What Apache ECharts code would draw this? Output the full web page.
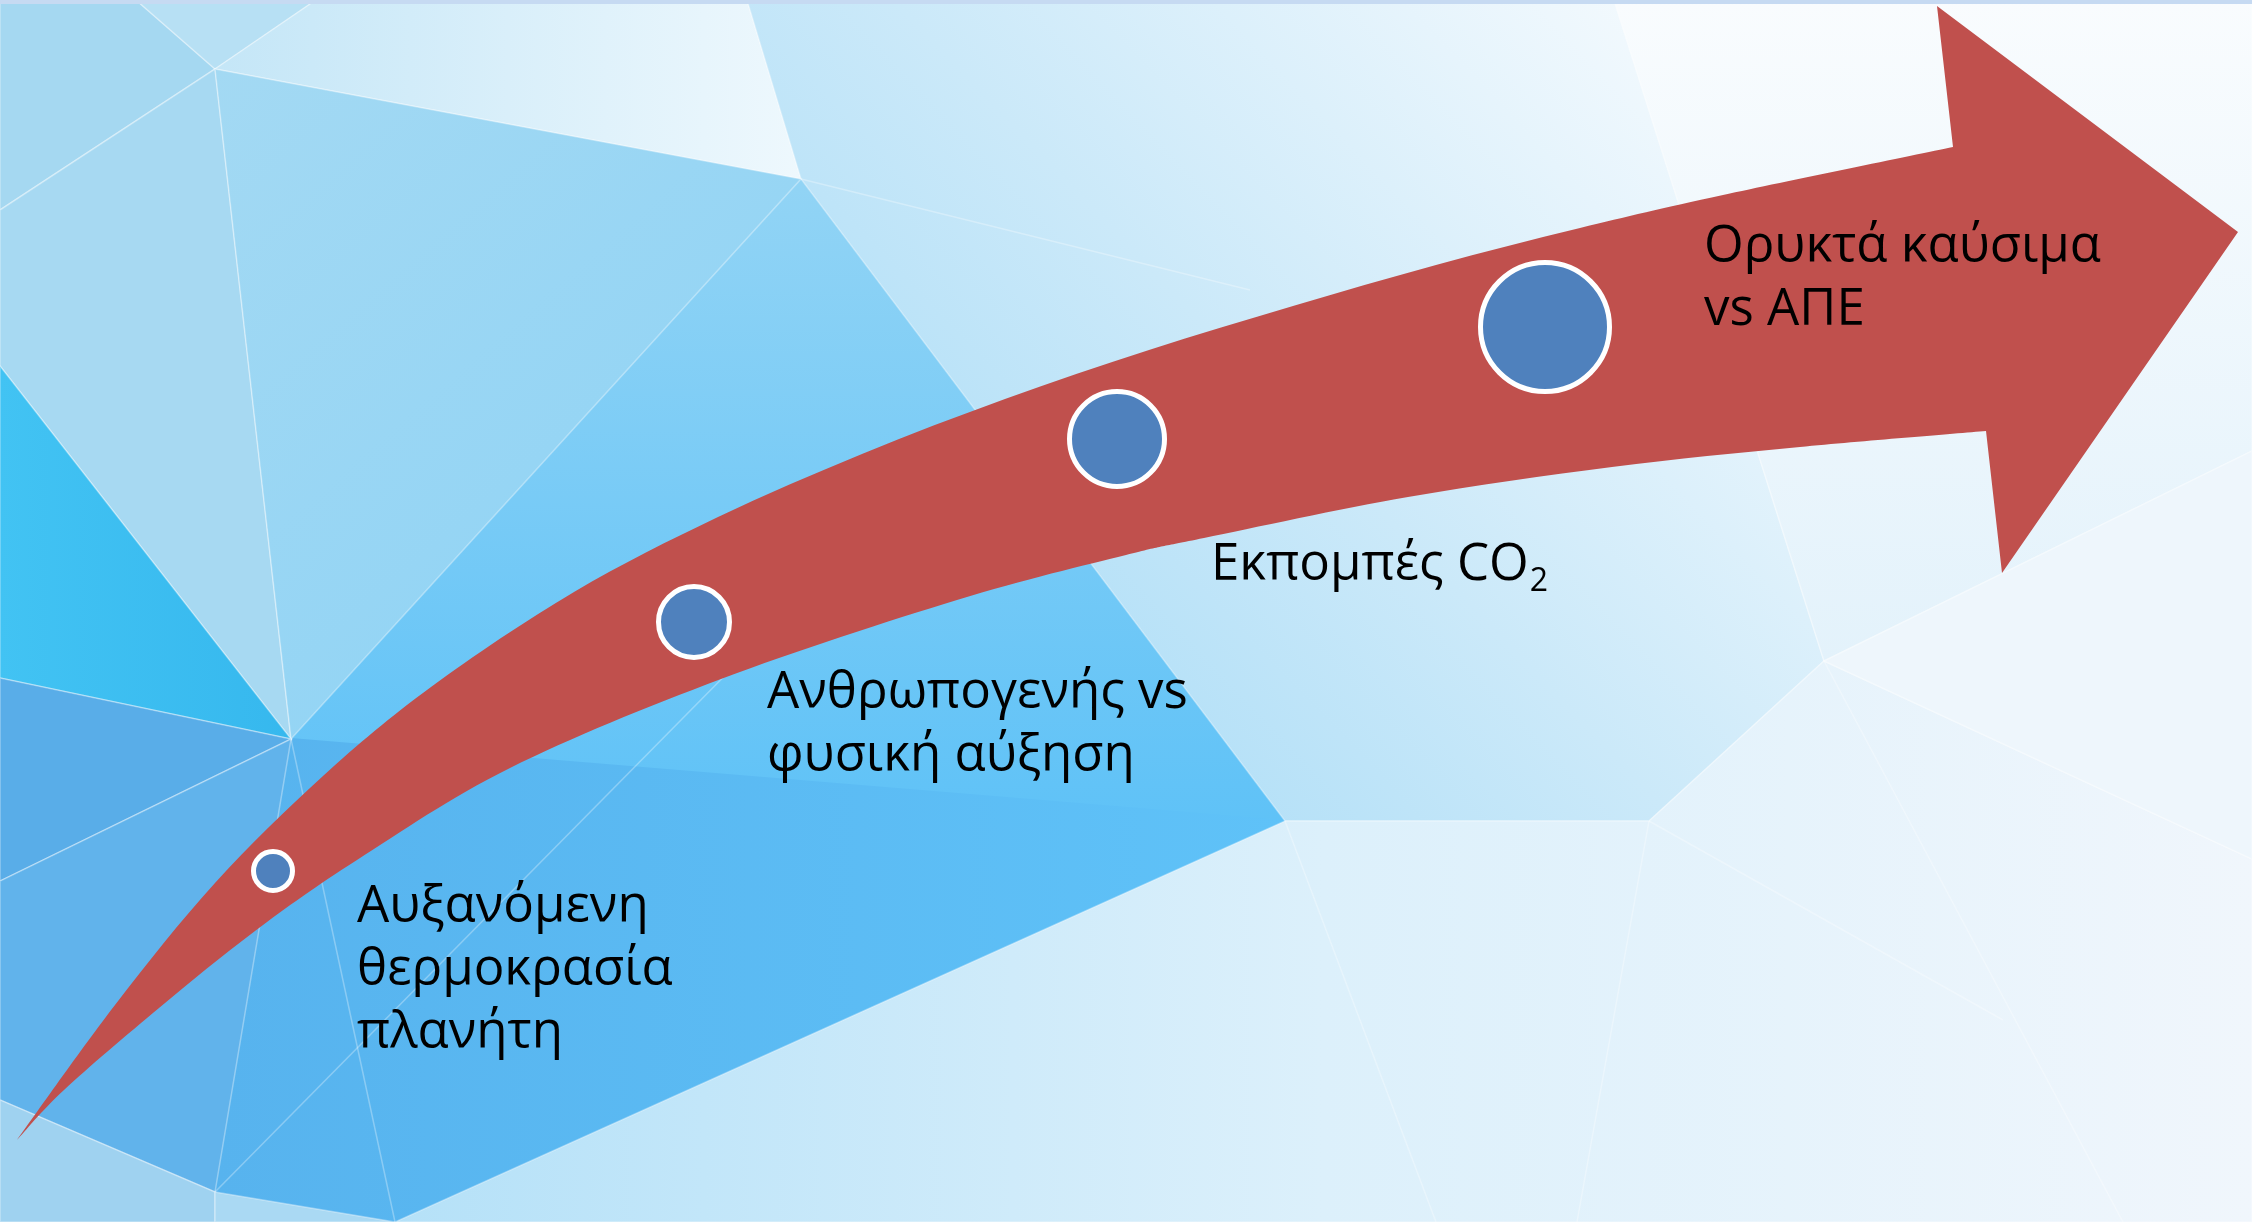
<!DOCTYPE html>
<html><head><meta charset="utf-8">
<script src="https://cdn.jsdelivr.net/npm/echarts@6/dist/echarts.min.js"></script>
<style>html,body{margin:0;padding:0;overflow:hidden;background:#fff}#c{width:2252px;height:1222px}</style>
</head><body><div id="c"></div>
<script>
// ---- Diagram content ----
const stepLines = [
  ["Αυξανόμενη", "θερμοκρασία", "πλανήτη"],
  ["Ανθρωπογενής vs", "φυσική αύξηση"],
  ["Εκπομπές CO₂"],
  ["Ορυκτά καύσιμα", "vs ΑΠΕ"]
];
const labelX = [357, 767, 1211, 1704];
const labelBaseline = [924, 710, 582, 264];
const circleX = [273, 694, 1117, 1545];
const circleY = [871, 622, 439, 327];
const circleR = [22, 38, 50, 67];

// Arrow outline
const arrowUpperX = [17, 115, 215, 323, 431, 574, 718, 862, 1005, 1149, 1293, 1436, 1580, 1723, 1953];
const arrowUpperY = [1140, 1005, 883, 776, 687, 592, 517, 454, 399, 350, 306, 265, 228, 195, 147];
const arrowHeadX = [1937, 2238, 2002];
const arrowHeadY = [6, 232, 573];
const arrowLowerX = [17, 64, 159, 255, 357, 510, 721, 957, 1126, 1204, 1408, 1612, 1800, 1986];
const arrowLowerY = [1140, 1090, 1008, 931, 860, 768, 679, 600, 555, 538, 497, 467, 447, 431];

// Background low-poly facets
const bgPolygons = [
  [[0,0],[2252,0],[2252,1222],[0,1222]],
  [[0,0],[136,0],[215,69],[0,210]],
  [[136,0],[316,0],[215,69]],
  [[316,0],[747,0],[801,179],[215,69]],
  [[747,0],[1614,0],[1824,661],[1649,821],[1285,821],[801,179]],
  [[1614,0],[2252,0],[2252,451],[1824,661]],
  [[0,210],[215,69],[291,739],[0,366]],
  [[215,69],[801,179],[291,739]],
  [[801,179],[1285,821],[291,739]],
  [[0,366],[291,739],[0,678]],
  [[0,678],[291,739],[0,881]],
  [[0,881],[291,739],[215,1192],[0,1100]],
  [[0,1100],[215,1192],[215,1222],[0,1222]],
  [[215,1192],[395,1222],[215,1222]],
  [[291,739],[1285,821],[395,1222],[215,1192]],
  [[1285,821],[1649,821],[1824,661],[2252,859],[2252,1222],[395,1222]],
  [[1824,661],[2252,451],[2252,859]]
];
// faint facet seams inside the larger facets
const bgSeams = [
  [[1285,821],[1436,1222]],
  [[1649,821],[1577,1222]],
  [[1649,821],[2003,1020]],
  [[1824,661],[2123,1222]],
  [[291,739],[395,1222]],
  [[801,179],[1250,290]],
  [[215,1192],[760,640]]
];

// ---- Styles ----
const G = echarts.graphic.LinearGradient;
const bgFill = [
  '#e8f4fb',
  '#a5d8f1',
  '#b7e0f4',
  new G(0,0,1,0,[{offset:0,color:'#c4e6f7'},{offset:1,color:'#eef8fd'}]),
  new G(0.1,1,0.9,0,[{offset:0,color:'#a1d9f6'},{offset:0.5,color:'#cbe9f9'},{offset:1,color:'#f7fbfe'}]),
  new G(0,0,0,1,[{offset:0,color:'#f9fcfe'},{offset:1,color:'#e3f2fb'}]),
  '#a7d9f2',
  new G(0,0,1,1,[{offset:0,color:'#a3d9f3'},{offset:1,color:'#8cd2f5'}]),
  new G(0,0,0,1,[{offset:0,color:'#92d4f5'},{offset:1,color:'#5fc2f7'}]),
  new G(0,0,1,0,[{offset:0,color:'#42c3f3'},{offset:1,color:'#36b8ee'}]),
  '#59ade8',
  '#61b3eb',
  '#9fd2f0',
  '#aad9f3',
  new G(0,0,1,0,[{offset:0,color:'#57b3ee'},{offset:1,color:'#5fc2f8'}]),
  new G(0,0,1,0,[{offset:0,color:'#b5e1f8'},{offset:0.5,color:'#dcf0fb'},{offset:1,color:'#f0f6fc'}]),
  '#eef6fc'
];
const bgStroked = [false, true, true, true, true, true, true, true, false, true, true, true, true, true, false, true, true];
const FONT_SIZE = 51;
const SUB_SIZE = 32;
const LINE_H = 63;
const FONT = '"Open Sans", "Noto Sans", sans-serif';

// flatten label lines
const textItems = [];
stepLines.forEach((lines, i) => lines.forEach((t, j) => textItems.push([labelX[i], labelBaseline[i] + j * LINE_H, t])));

const measureCtx = document.createElement('canvas').getContext('2d');
function textWidth(t, size) {
  measureCtx.font = size + 'px ' + FONT;
  return measureCtx.measureText(t).width;
}

function catmull(pts) {
  let d = '';
  for (let i = 0; i < pts.length - 1; i++) {
    const p0 = pts[i-1] || pts[i], p1 = pts[i], p2 = pts[i+1], p3 = pts[i+2] || pts[i+1];
    const c1 = [p1[0] + (p2[0]-p0[0])/6, p1[1] + (p2[1]-p0[1])/6];
    const c2 = [p2[0] - (p3[0]-p1[0])/6, p2[1] - (p3[1]-p1[1])/6];
    d += ' C' + c1[0] + ',' + c1[1] + ' ' + c2[0] + ',' + c2[1] + ' ' + p2[0] + ',' + p2[1];
  }
  return d;
}

const chart = echarts.init(document.getElementById('c'), null, {renderer: 'canvas'});
chart.setOption({
  animation: false,
  grid: {left: 0, right: 0, top: 0, bottom: 0},
  xAxis: {type: 'value', min: 0, max: 2252, show: false},
  yAxis: {type: 'value', min: 0, max: 1222, inverse: true, show: false},
  series: [
    {
      type: 'custom', silent: true, z: 1,
      data: bgPolygons.map((p, i) => [i]),
      renderItem: (params, api) => {
        const i = params.dataIndex;
        const pts = bgPolygons[i].map(p => api.coord(p));
        return {type: 'polygon', shape: {points: pts}, z2: bgStroked[i] ? 1 : 0,
          style: {fill: bgFill[i], stroke: bgStroked[i] ? 'rgba(255,255,255,0.35)' : bgFill[i], lineWidth: bgStroked[i] ? 1.5 : 2}};
      }
    },
    {
      type: 'custom', silent: true, z: 2,
      data: bgSeams.map((s, i) => [i]),
      renderItem: (params, api) => {
        const s = bgSeams[params.dataIndex];
        const a = api.coord(s[0]), b = api.coord(s[1]);
        return {type: 'line', shape: {x1: a[0], y1: a[1], x2: b[0], y2: b[1]},
          style: {stroke: 'rgba(255,255,255,0.3)', lineWidth: 1.5}};
      }
    },
    {
      type: 'custom', silent: true, z: 2,
      data: [[0]],
      renderItem: (params, api) => {
        const tl = api.coord([0, 0]), br = api.coord([2252, 4]);
        return {type: 'rect', shape: {x: tl[0], y: tl[1], width: br[0]-tl[0], height: br[1]-tl[1]}, style: {fill: '#c6daf2'}};
      }
    },
    {
      type: 'custom', silent: true, z: 3,
      data: [[0]],
      renderItem: (params, api) => {
        const up = arrowUpperX.map((x, i) => api.coord([x, arrowUpperY[i]]));
        const lo = arrowLowerX.map((x, i) => api.coord([x, arrowLowerY[i]])).reverse();
        const head = arrowHeadX.map((x, i) => api.coord([x, arrowHeadY[i]]));
        let d = 'M' + up[0][0] + ',' + up[0][1] + catmull(up);
        head.forEach(h => { d += ' L' + h[0] + ',' + h[1]; });
        d += ' L' + lo[0][0] + ',' + lo[0][1] + catmull(lo) + ' Z';
        return {type: 'path', shape: {pathData: d}, style: {fill: '#c0504d'}};
      }
    },
    {
      type: 'custom', silent: true, z: 4,
      data: circleX.map((x, i) => [x, circleY[i], circleR[i]]),
      renderItem: (params, api) => {
        const c = api.coord([api.value(0), api.value(1)]);
        const r = api.size([api.value(2), 0])[0];
        return {type: 'circle', shape: {cx: c[0], cy: c[1], r: r - 2.5},
          style: {fill: '#4f81bd', stroke: '#ffffff', lineWidth: 5}};
      }
    },
    {
      type: 'custom', silent: true, z: 5,
      data: textItems.map(t => [t[0], t[1]]),
      renderItem: (params, api) => {
        const t = textItems[params.dataIndex];
        const c = api.coord([t[0], t[1]]);
        let main = t[2], sub = null;
        if (main.endsWith('₂')) { main = main.slice(0, -1); sub = '2'; }
        const children = [{type: 'text', x: c[0], y: c[1] - FONT_SIZE * 0.33,
          style: {text: main, fill: '#000000', fontSize: FONT_SIZE, fontFamily: FONT, align: 'left', verticalAlign: 'middle'}}];
        if (sub) {
          children.push({type: 'text', x: c[0] + textWidth(main, FONT_SIZE) + 1, y: c[1] + 10 - SUB_SIZE * 0.33,
            style: {text: sub, fill: '#000000', fontSize: SUB_SIZE, fontFamily: FONT, align: 'left', verticalAlign: 'middle'}});
        }
        return {type: 'group', children: children};
      }
    }
  ]
});
</script></body></html>
